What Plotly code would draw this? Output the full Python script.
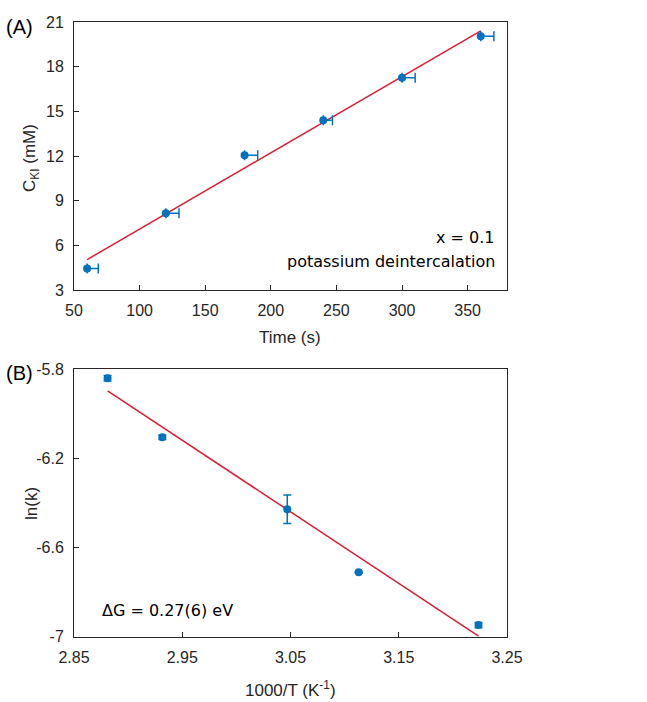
import plotly.graph_objects as go

# Panel A data
time_s = [60, 120, 180, 240, 300, 360]
c_ki = [4.45, 8.15, 12.05, 14.4, 17.25, 20.05]
time_err_plus = [8.5, 10, 10, 7, 10, 10]
fitA_x = [60, 360]
fitA_y = [5.04, 20.41]

# Panel B data
inv_T = [2.881, 2.9316, 3.047, 3.113, 3.2237]
ln_k = [-5.840, -6.105, -6.428, -6.711, -6.948]
ln_k_err = [0.012, 0.01, 0.064, 0.004, 0.012]
fitB_x = [2.881, 3.2237]
fitB_y = [-5.897, -6.997]

xA_ticks = [50, 100, 150, 200, 250, 300, 350]
yA_ticks = [3, 6, 9, 12, 15, 18, 21]
xB_ticks = [2.85, 2.95, 3.05, 3.15, 3.25]
yB_ticks = [-7, -6.6, -6.2, -5.8]
yB_labels = ["-7", "-6.6", "-6.2", "-5.8"]

BLUE = "#0072BD"
RED = "#D91E36"
AX = "#262626"
W, H = 647, 702

fig = go.Figure()

fig.add_trace(go.Scatter(x=fitA_x, y=fitA_y, mode="lines",
                         line=dict(color=RED, width=1.5), xaxis="x", yaxis="y",
                         showlegend=False))
fig.add_trace(go.Scatter(x=time_s, y=c_ki, mode="markers",
                         marker=dict(color=BLUE, size=8),
                         error_x=dict(type="data", symmetric=False, array=time_err_plus,
                                      arrayminus=[0]*len(time_s), color=BLUE,
                                      thickness=1.5, width=5),
                         xaxis="x", yaxis="y", showlegend=False))

fig.add_trace(go.Scatter(x=fitB_x, y=fitB_y, mode="lines",
                         line=dict(color=RED, width=1.5), xaxis="x2", yaxis="y2",
                         showlegend=False))
fig.add_trace(go.Scatter(x=inv_T, y=ln_k, mode="markers",
                         marker=dict(color=BLUE, size=8),
                         error_y=dict(type="data", array=ln_k_err, color=BLUE,
                                      thickness=1.5, width=4),
                         xaxis="x2", yaxis="y2", showlegend=False))

SANS = "Liberation Sans, Arial, sans-serif"
DEJA = "DejaVu Sans, Verdana, sans-serif"
tickfont = dict(family=SANS, size=16, color=AX)

xdom = [74 / W, 507 / W]
yA = [1 - 290 / H, 1 - 22 / H]
yB = [1 - 636.7 / H, 1 - 369.3 / H]

common = dict(showline=True, linecolor=AX, linewidth=1, mirror=True,
              ticks="inside", ticklen=5, tickcolor=AX, tickwidth=1,
              showgrid=False, zeroline=False, tickfont=tickfont,
              automargin=False)


def ann(text, x, y, xanchor="center", size=17, family=SANS, color=AX, angle=0):
    return dict(text=text, x=x / W, y=1 - y / H, xref="paper", yref="paper",
                xanchor=xanchor, yanchor="middle", showarrow=False, textangle=angle,
                font=dict(family=family, size=size, color=color))


fig.update_layout(
    width=W, height=H,
    margin=dict(l=0, r=0, t=0, b=0),
    plot_bgcolor="white", paper_bgcolor="white",
    xaxis=dict(domain=xdom, range=[50, 380], tickvals=xA_ticks, anchor="y",
               ticklabelstandoff=6, **common),
    yaxis=dict(domain=yA, range=[3, 21], tickvals=yA_ticks, anchor="x",
               ticklabelstandoff=6, **common),
    xaxis2=dict(domain=xdom, range=[2.85, 3.25], tickvals=xB_ticks, anchor="y2",
                ticklabelstandoff=6, **common),
    yaxis2=dict(domain=yB, range=[-7, -5.8], tickvals=yB_ticks, ticktext=yB_labels, anchor="x2",
                ticklabelstandoff=6, **common),
    annotations=[
        ann("(A)", 4, 27, xanchor="left", size=20, color="black"),
        ann("(B)", 4, 373, xanchor="left", size=20, color="black"),
        ann("Time (s)", 290, 338),
        ann("C<sub>KI</sub> (mM)", 31, 158, angle=-90),
        ann("1000/T (K<sup>-1</sup>)", 290, 689),
        ann("ln(k)", 31, 503, angle=-90),
        ann("x = 0.1", 497, 237, xanchor="right", size=16, family=DEJA, color="black"),
        ann("potassium deintercalation", 497, 262, xanchor="right", size=16, family=DEJA, color="black"),
        ann("ΔG = 0.27(6) eV", 100, 610, xanchor="left", size=16, family=DEJA, color="black"),
    ],
)

fig.write_html("out.html")
